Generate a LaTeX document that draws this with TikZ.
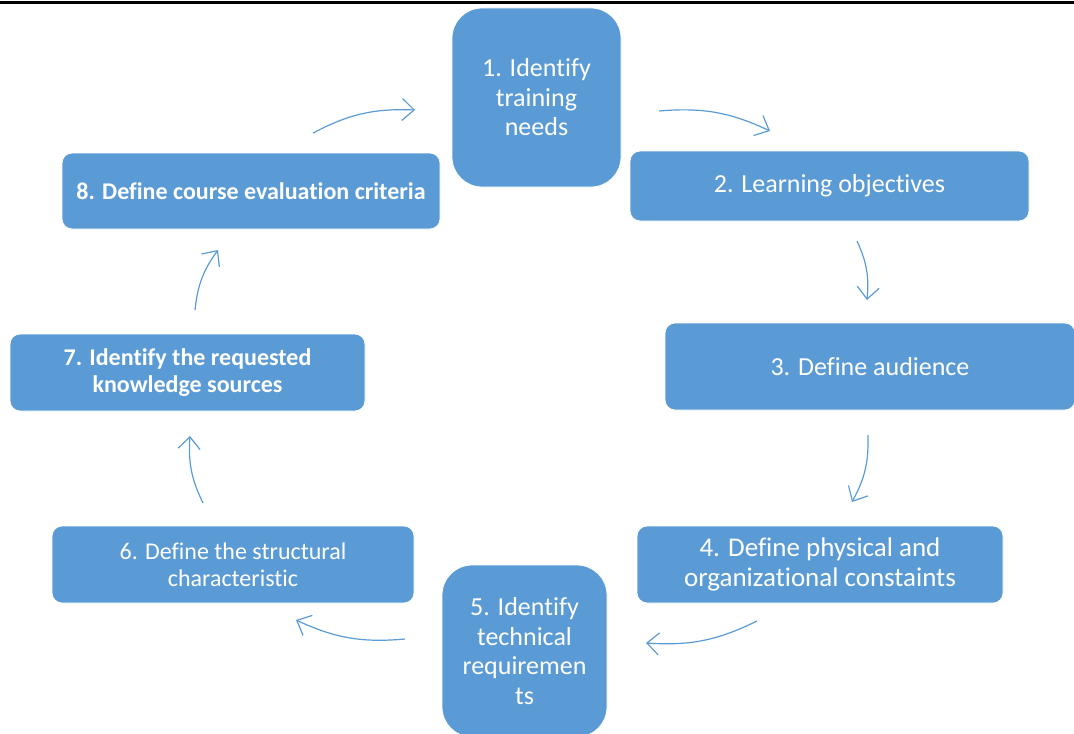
\documentclass[tikz,border=0pt]{standalone}
\usepackage{fontspec}
\setmainfont{Carlito}[Ligatures=NoCommon]
\usetikzlibrary{arrows.meta}
\definecolor{officeblue}{HTML}{5B9BD5}

\begin{document}
\begin{tikzpicture}[x=0.5pt,y=-0.5pt,
    proc/.style={rectangle,rounded corners=5pt,fill=officeblue,draw=white,line width=0.4pt,
      text=white,align=center,inner sep=0pt,font=\fontsize{13}{14.75}\selectfont},
    flow/.style={draw=officeblue,line width=0.6pt,bend left=15},
    >={Straight Barb[length=6pt,width=11pt]}]
  \useasboundingbox (0,0) rectangle (1074,733);
  \draw[line width=1.5pt] (0,2.3) -- (1074,2.3);

  \node[proc,rounded corners=15pt,minimum width=84.5pt,minimum height=89.5pt] (1) at (536.5,97.5) {1. Identify\\training\\needs};
  \node[proc,minimum width=199.5pt,minimum height=35pt] (2) at (829.5,186) {2. Learning objectives};
  \node[proc,minimum width=205pt,minimum height=43.5pt] (3) at (870,366.5) {3. Define audience};
  \node[proc,minimum width=183pt,minimum height=38.5pt,font=\fontsize{13.5}{15}\selectfont] (4) at (820,564.5) {4. Define physical and\\organizational constaints};
  \node[proc,rounded corners=15pt,minimum width=82.5pt,minimum height=86pt] (5) at (524.5,651) {5. Identify\\technical\\requiremen\\ts};
  \node[proc,minimum width=181pt,minimum height=38.5pt,font=\fontsize{12}{13.5}\selectfont] (6) at (233,564.5) {6. Define the structural\\characteristic};
  \node[proc,minimum width=177.5pt,minimum height=38.5pt,font=\fontsize{12}{13.5}\selectfont\bfseries] (7) at (187.5,372.5) {7. Identify the requested\\knowledge sources};
  \node[proc,minimum width=189pt,minimum height=38pt,font=\fontsize{12}{13.5}\selectfont\bfseries] (8) at (251,191) {8. Define course evaluation criteria};

  \coordinate (1out) at (659,111);
  \coordinate (2in) at (770,131);
  \coordinate (2out) at (857,241);
  \coordinate (3in) at (867,300);
  \coordinate (3out) at (868,435);
  \coordinate (4in) at (852,502);
  \coordinate (4out) at (757,621);
  \coordinate (5in) at (646,643);
  \coordinate (5out) at (405,639);
  \coordinate (6in) at (296,620);
  \coordinate (6out) at (203,503);
  \coordinate (7in) at (190,436);
  \coordinate (7out) at (195,310);
  \coordinate (8in) at (218,250);
  \coordinate (8out) at (313,133);
  \coordinate (1in) at (415,110);

  \draw[flow,->] (1out) to (2in);
  \draw[flow,->] (2out) to (3in);
  \draw[flow,->] (3out) to (4in);
  \draw[flow,->] (4out) to (5in);
  \draw[flow,->] (5out) to (6in);
  \draw[flow,->] (6out) to (7in);
  \draw[flow,->] (7out) to (8in);
  \draw[flow,->] (8out) to (1in);
\end{tikzpicture}
\end{document}
